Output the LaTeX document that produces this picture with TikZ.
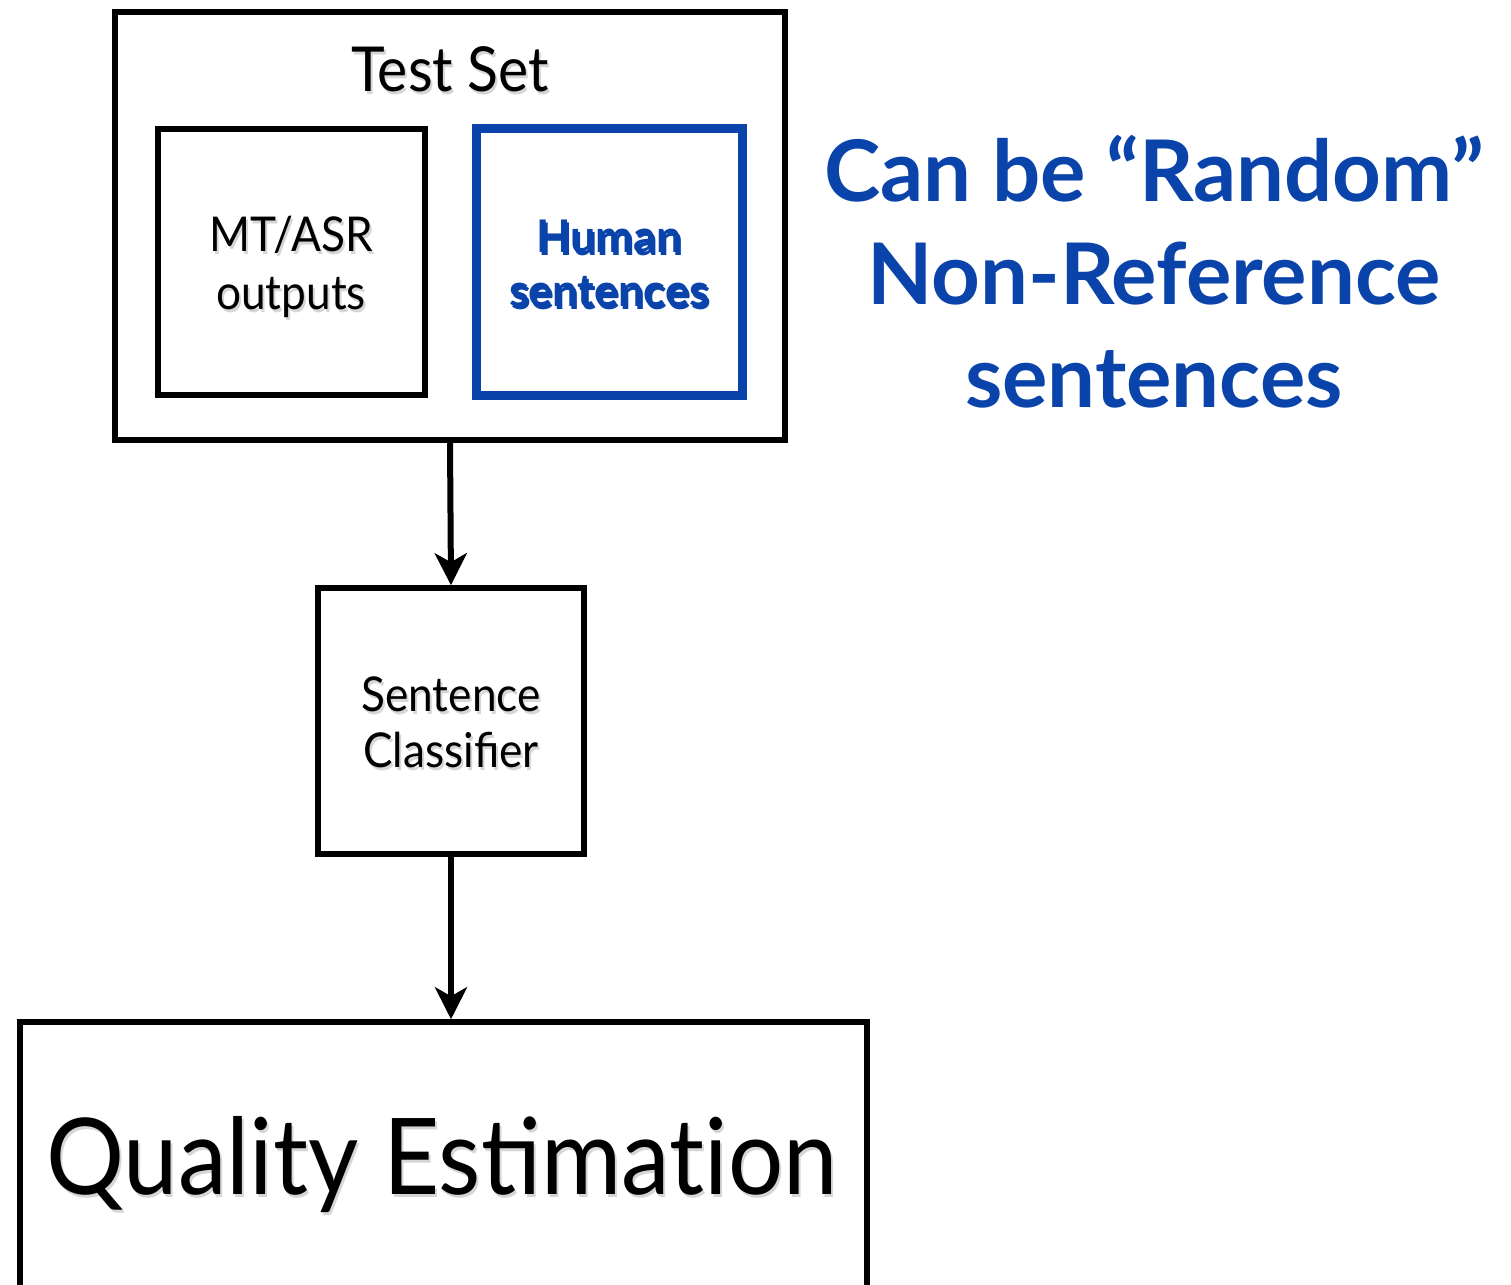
\documentclass[tikz,border=0pt]{standalone}
\usepackage{fontspec}
\setmainfont{Lato}
\newfontfamily\narrowfont{Lato}[FakeStretch=0.92]
\usetikzlibrary{arrows.meta}
\definecolor{refblue}{RGB}{10,68,170}
\newcommand{\shd}[1]{\makebox[0pt][l]{\hspace{2pt}\raisebox{-3pt}{\textcolor{black!16}{#1}}}#1}
\tikzset{
  box/.style={draw=black, line width=5.5pt, rectangle, inner sep=0pt, fill=white},
  bluebox/.style={draw=refblue, line width=9pt, rectangle, inner sep=0pt, fill=white},
  lbl/.style={align=center, inner sep=0pt, text=black},
  conn/.style={line width=6pt, -{Stealth[length=32pt, width=32pt, inset=9pt]}}
}
\begin{document}
\begin{tikzpicture}[x=1pt,y=-1pt]
\useasboundingbox (0,0) rectangle (1511,1284);
\clip (0,0) rectangle (1511,1284);
\fill[white] (0,0) rectangle (1511,1284);
% boxes
\node[box, minimum width=670pt, minimum height=428pt] (testset) at (450,226) {};
\node[box, minimum width=267pt, minimum height=266pt] (mt) at (291.5,262) {};
\node[bluebox, minimum width=266pt, minimum height=266pt] (human) at (609,262) {};
\node[box, minimum width=266pt, minimum height=266pt] (clf) at (451,721) {};
\node[box, minimum width=847pt, minimum height=500pt] (qe) at (443.5,1272) {};
% labels
\node[lbl, font=\narrowfont\fontsize{62}{70}\selectfont] (tslabel) at (450,71) {\shd{Test Set}};
\node[lbl, font=\narrowfont\fontsize{48}{58}\selectfont] (mtlabel) at (291,268) {\shd{MT/ASR}\\\shd{outputs}};
\node[lbl, text=refblue, font=\bfseries\fontsize{45}{54}\selectfont] (humanlabel) at (609,265) {\shd{\color{refblue}Human}\\\shd{\color{refblue}sentences}};
\node[lbl, font=\narrowfont\fontsize{48}{56}\selectfont] (clflabel) at (451,724) {\shd{Sentence}\\\shd{Classifier}};
\node[lbl, font=\narrowfont\fontsize{106}{120}\selectfont] (qelabel) at (442,1166) {\shd{Quality Estima\mbox{t}ion}};
\node[lbl, text=refblue, font=\bfseries\fontsize{85}{103}\selectfont] (note) at (1154,272) {Can be “Random”\\Non-Reference\\sentences};
% connectors
\draw[conn] (testset.south) -- (clf.north);
\draw[conn] (clf.south) -- (clf.south |- qe.north);
\end{tikzpicture}
\end{document}
